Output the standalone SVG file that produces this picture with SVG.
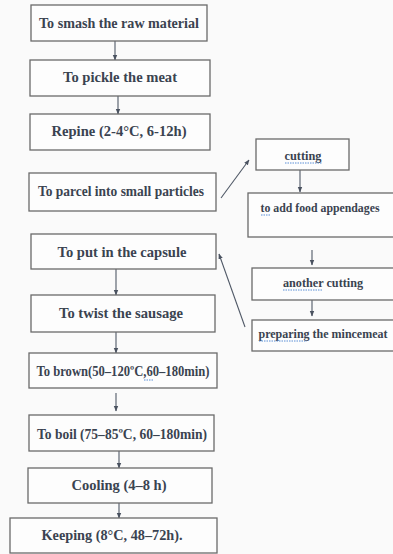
<svg xmlns="http://www.w3.org/2000/svg" width="393" height="554" viewBox="0 0 393 554">
<defs>
<marker id="ah" viewBox="0 0 10 10" refX="9" refY="5" markerWidth="5" markerHeight="5" orient="auto-start-reverse">
<path d="M0,1 L10,5 L0,9 z" fill="#4a5260"/>
</marker>
<style>
.box{fill:#fdfdfd;stroke:#6a6a6a;stroke-width:1.3}
.t{font-family:"Liberation Serif","Times New Roman",serif;font-weight:bold;fill:#3a4350;text-anchor:middle}
.l{font-size:15px}
.r{font-size:12.5px}
.c{stroke:#4f5866;stroke-width:1.1;fill:none;marker-end:url(#ah)}
.sq{stroke:#5b8fd6;stroke-width:1;fill:none;stroke-dasharray:1.5 1}
</style>
</defs>
<rect width="393" height="554" fill="#fafafa"/>
<g id="connectors">
<line class="c" x1="115" y1="41" x2="115" y2="60"/>
<line class="c" x1="118" y1="96" x2="118" y2="114"/>
<line class="c" x1="116" y1="269" x2="116" y2="295"/>
<line class="c" x1="116" y1="332" x2="116" y2="353"/>
<line class="c" x1="116" y1="393" x2="116" y2="411"/>
<line class="c" x1="119" y1="451" x2="119" y2="468"/>
<line class="c" x1="119" y1="503" x2="119" y2="518"/>
<line class="c" x1="300" y1="170" x2="300" y2="192"/>
<line class="c" x1="312" y1="250" x2="312" y2="265"/>
<line class="c" x1="312" y1="300" x2="312" y2="316"/>
<line class="c" x1="221" y1="198" x2="249" y2="160"/>
<line class="c" x1="245" y1="327" x2="219" y2="254"/>
</g>
<g id="n1"><rect class="box" x="31" y="5" width="176" height="36"/><text class="t l" x="119" y="27.5" textLength="160" lengthAdjust="spacingAndGlyphs">To smash the raw material</text></g>
<g id="n2"><rect class="box" x="30" y="60" width="180" height="36"/><text class="t l" x="120" y="82" textLength="114" lengthAdjust="spacingAndGlyphs">To pickle the meat</text></g>
<g id="n3"><rect class="box" x="30" y="114" width="180" height="36"/><text class="t l" x="119" y="136" textLength="135" lengthAdjust="spacingAndGlyphs">Repine (2-4°C, 6-12h)</text></g>
<g id="n4"><rect class="box" x="29" y="173" width="187" height="38"/><text class="t l" x="121" y="196" textLength="166" lengthAdjust="spacingAndGlyphs">To parcel into small particles</text></g>
<g id="n5"><rect class="box" x="31" y="234" width="185" height="35"/><text class="t l" x="122" y="256.5" textLength="129" lengthAdjust="spacingAndGlyphs">To put in the capsule</text></g>
<g id="n6"><rect class="box" x="31" y="295" width="184" height="37"/><text class="t l" x="121" y="317.5" textLength="124" lengthAdjust="spacingAndGlyphs">To twist the sausage</text></g>
<g id="n7"><rect class="box" x="29" y="353" width="188" height="35"/><text class="t l" x="123" y="375.5" textLength="173" lengthAdjust="spacingAndGlyphs">To brown(50–120ºC,60–180min)</text><path class="sq" d="M144,380 h9"/></g>
<g id="n8"><rect class="box" x="29" y="415" width="185" height="36"/><text class="t l" x="122" y="438.5" textLength="170" lengthAdjust="spacingAndGlyphs">To boil (75–85ºC, 60–180min)</text></g>
<g id="n9"><rect class="box" x="28" y="468" width="184" height="35"/><text class="t l" x="119" y="489.5" textLength="95" lengthAdjust="spacingAndGlyphs">Cooling (4–8 h)</text></g>
<g id="n10"><rect class="box" x="10" y="518" width="207" height="35"/><text class="t l" x="112" y="539.5" textLength="141" lengthAdjust="spacingAndGlyphs">Keeping (8°C, 48–72h).</text></g>
<g id="r1"><rect class="box" x="256" y="139" width="93" height="31"/><text class="t r" x="303" y="160" textLength="37" lengthAdjust="spacingAndGlyphs">cutting</text><path class="sq" d="M285,163 h37"/></g>
<g id="r2"><rect class="box" x="248" y="193" width="146" height="44"/><text class="t r" x="320" y="212" textLength="119" lengthAdjust="spacingAndGlyphs">to add food appendages</text><path class="sq" d="M261,215 h9"/></g>
<g id="r3"><rect class="box" x="252" y="268" width="142" height="32"/><text class="t r" x="323" y="287" textLength="80" lengthAdjust="spacingAndGlyphs">another cutting</text><path class="sq" d="M283,290 h39"/></g>
<g id="r4"><rect class="box" x="252" y="320" width="142" height="31"/><text class="t r" x="323" y="338" textLength="129" lengthAdjust="spacingAndGlyphs">preparing the mincemeat</text><path class="sq" d="M259,341 h48"/></g>
</svg>
